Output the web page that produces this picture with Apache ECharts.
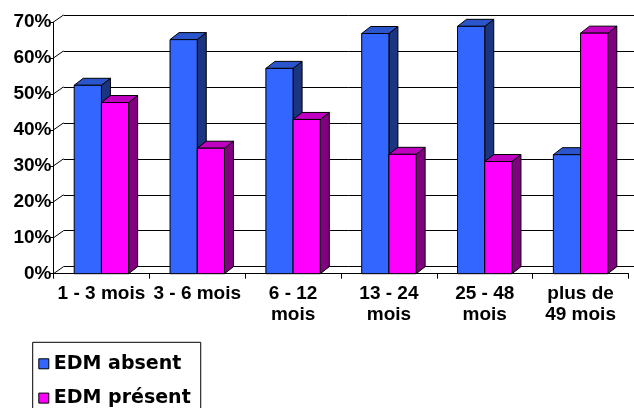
<!DOCTYPE html>
<html>
<head>
<meta charset="utf-8">
<script src="https://cdn.jsdelivr.net/npm/echarts@6/dist/echarts.min.js"></script>
<style>
  html, body { margin: 0; padding: 0; background: #fff; }
  #chart { width: 634px; height: 408px; }
</style>
</head>
<body>
<div id="chart"></div>
<script>
// Durée d'évolution et présence d'un EDM (en %)
const categories = ['1 - 3 mois', '3 - 6 mois', '6 - 12\nmois', '13 - 24\nmois', '25 - 48\nmois', 'plus de\n49 mois'];
const edmAbsent  = [52.4, 65.1, 57.1, 66.8, 68.8, 33.1];
const edmPresent = [47.6, 34.9, 42.9, 33.2, 31.2, 66.9];
const seriesNames = ['EDM absent', 'EDM présent'];
const yTicks = [0, 10, 20, 30, 40, 50, 60, 70];

const FONT = "'Liberation Sans', Arial, sans-serif";
const WALL = { dx: 10, dy: -7 };     // depth of the back wall
const DEPTH = { dx: 9, dy: -7 };     // depth of each column
const BAR_RATIO = 0.284;             // column width as a share of the category band

const faces = [
  { front: '#3366FF', top: '#2B55CC', side: '#1C3580' },
  { front: '#FF00FF', top: '#C000C0', side: '#800080' }
];

function columnRenderer(slot) {
  return function (params, api) {
    const i = api.value(0);
    const v = api.value(1);
    const base = api.coord([i, 0]);
    const top = api.coord([i, v]);
    const w = api.size([1, 0])[0] * BAR_RATIO;
    const x0 = base[0] + (slot === 0 ? -w : 0);
    const x1 = x0 + w;
    const yT = top[1], yB = base[1];
    const c = faces[slot];
    const stroke = { stroke: '#000', lineWidth: 1, lineJoin: 'round' };
    return {
      type: 'group',
      children: [
        { type: 'polygon', shape: { points: [[x1, yT], [x1 + DEPTH.dx, yT + DEPTH.dy], [x1 + DEPTH.dx, yB + DEPTH.dy], [x1, yB]] },
          style: Object.assign({ fill: c.side }, stroke) },
        { type: 'polygon', shape: { points: [[x0, yT], [x1, yT], [x1 + DEPTH.dx, yT + DEPTH.dy], [x0 + DEPTH.dx, yT + DEPTH.dy]] },
          style: Object.assign({ fill: c.top }, stroke) },
        { type: 'rect', shape: { x: x0, y: yT, width: w, height: yB - yT },
          style: Object.assign({ fill: c.front }, stroke) }
      ]
    };
  };
}

// slanted links between the front value axis and the back wall gridlines
function wallLinks(params, api) {
  const v = api.value(0);
  const p = api.coord([0, v]);
  const x = params.coordSys.x;
  return {
    type: 'line',
    shape: { x1: x, y1: p[1], x2: x + WALL.dx, y2: p[1] + WALL.dy },
    style: { stroke: '#000', lineWidth: 1 }
  };
}

const chart = echarts.init(document.getElementById('chart'), null, { renderer: 'canvas' });

const frontGrid = { left: 53.5, right: 5.5, top: 22, bottom: 134.3 };
const backGrid = {
  left: frontGrid.left + WALL.dx,
  right: frontGrid.right - WALL.dx,
  top: frontGrid.top + WALL.dy,
  bottom: frontGrid.bottom - WALL.dy
};

chart.setOption({
  animation: false,
  backgroundColor: '#fff',
  color: [faces[0].front, faces[1].front],
  textStyle: { fontFamily: FONT },
  grid: [
    Object.assign({ containLabel: false }, backGrid),
    Object.assign({ containLabel: false }, frontGrid)
  ],
  xAxis: [
    { gridIndex: 0, type: 'category', data: categories, show: false },
    {
      gridIndex: 1, type: 'category', data: categories, boundaryGap: true,
      axisLine: { show: true, lineStyle: { color: '#000', width: 1 } },
      axisTick: { show: true, length: 5, lineStyle: { color: '#000' } },
      axisLabel: {
        interval: 0, margin: 10, color: '#000', fontFamily: FONT,
        fontWeight: 'bold', fontSize: 19, lineHeight: 21, align: 'center'
      },
      splitLine: { show: false }
    }
  ],
  yAxis: [
    {
      gridIndex: 0, type: 'value', min: 0, max: 70, interval: 10,
      axisLine: { show: false }, axisTick: { show: false }, axisLabel: { show: false },
      splitLine: { show: true, lineStyle: { color: '#000', width: 1 } }
    },
    {
      gridIndex: 1, type: 'value', min: 0, max: 70, interval: 10,
      axisLine: { show: true, lineStyle: { color: '#000', width: 1 } },
      axisTick: { show: true, length: 4, lineStyle: { color: '#000' } },
      axisLabel: {
        formatter: '{value}%', margin: 2, color: '#000', fontFamily: FONT,
        fontWeight: 'bold', fontSize: 19
      },
      splitLine: { show: false }
    }
  ],
  legend: {
    data: seriesNames,
    orient: 'vertical',
    left: 32.7,
    top: 342.3,
    height: 140,
    padding: [12, 10, 12, 5.6],
    itemGap: 15.3,
    itemWidth: 10,
    itemHeight: 10,
    icon: 'rect',
    borderColor: '#000',
    borderWidth: 1,
    borderRadius: 0,
    itemStyle: { borderColor: '#000', borderWidth: 1 },
    textStyle: { fontFamily: "'DejaVu Sans', sans-serif", fontWeight: 'bold', fontSize: 19, color: '#000' }
  },
  series: [
    {
      type: 'custom', name: 'links', xAxisIndex: 1, yAxisIndex: 1, silent: true,
      data: yTicks.map(v => [v]), encode: { y: 0 }, renderItem: wallLinks, z: 1
    },
    {
      type: 'custom', name: seriesNames[0], xAxisIndex: 1, yAxisIndex: 1,
      data: edmAbsent.map((v, i) => [i, v]), encode: { x: 0, y: 1 },
      itemStyle: { color: faces[0].front }, renderItem: columnRenderer(0), z: 3
    },
    {
      type: 'custom', name: seriesNames[1], xAxisIndex: 1, yAxisIndex: 1,
      data: edmPresent.map((v, i) => [i, v]), encode: { x: 0, y: 1 },
      itemStyle: { color: faces[1].front }, renderItem: columnRenderer(1), z: 4
    }
  ]
});
</script>
</body>
</html>
